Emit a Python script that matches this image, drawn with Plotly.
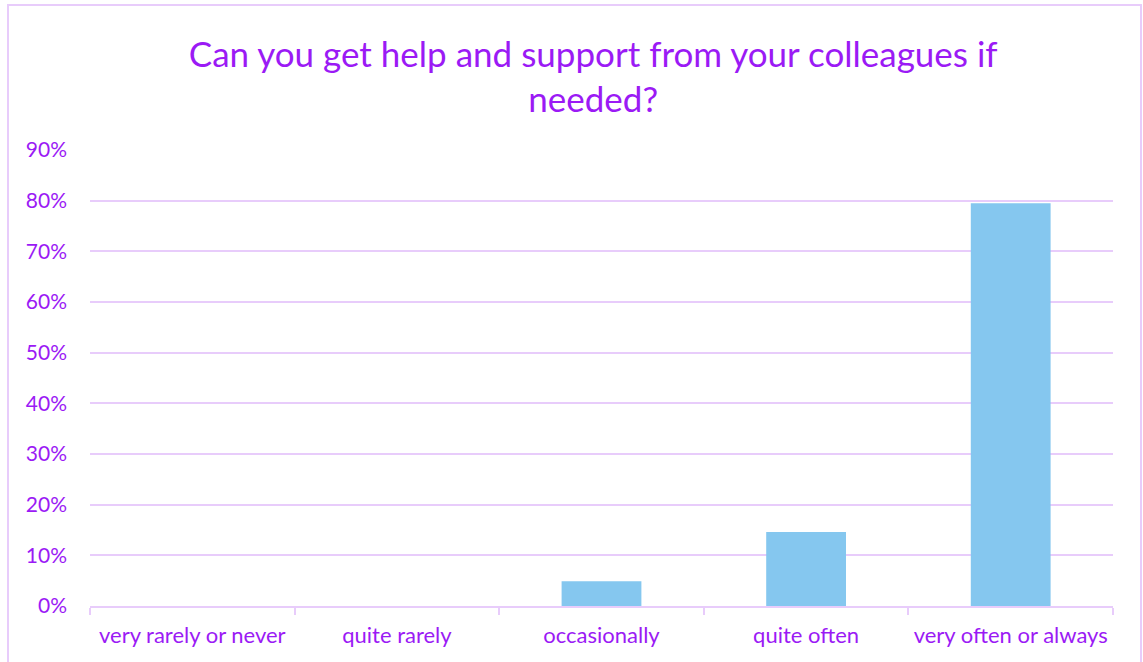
import plotly.graph_objects as go

categories = ["very rarely or never", "quite rarely", "occasionally", "quite often", "very often or always"]
shares = [0.0, 0.0, 0.049, 0.146, 0.795]
y_ticks = [0, 0.1, 0.2, 0.3, 0.4, 0.5, 0.6, 0.7, 0.8, 0.9]
y_tick_labels = ["0%", "10%", "20%", "30%", "40%", "50%", "60%", "70%", "80%", "90%"]

purple = "#9B1AF5"
grid = "#E8CCFB"
bar_color = "#85C7EF"
font_family = "Lato, 'Open Sans', sans-serif"

fig = go.Figure()
fig.add_trace(go.Bar(
    x=categories,
    y=shares,
    marker=dict(color=bar_color, line=dict(width=0)),
))

fig.update_layout(
    width=1143,
    height=662,
    margin=dict(l=90, r=30, t=150, b=56),
    paper_bgcolor="white",
    plot_bgcolor="white",
    showlegend=False,
    bargap=0.61,
    font=dict(family=font_family, color=purple),
    title=dict(
        text="Can you get help and support from your colleagues if<br>needed?",
        x=0.519,
        xanchor="center",
        y=0.899,
        yanchor="middle",
        font=dict(size=35, color=purple, family=font_family),
    ),
    shapes=[dict(
        type="rect", xref="paper", yref="paper",
        x0=-82 / 1023, x1=1 + 28 / 1023, y0=-60 / 456, y1=1 + 145 / 456,
        line=dict(color=grid, width=2), layer="below",
    )],
)

fig.update_yaxes(
    range=[0, 0.9],
    tickvals=y_ticks,
    ticktext=y_tick_labels,
    showgrid=True,
    gridcolor=grid,
    gridwidth=2,
    zeroline=False,
    showline=False,
    tickfont=dict(size=21, color=purple),
    ticklabelstandoff=22,
)

fig.update_xaxes(
    showline=True,
    linecolor=grid,
    linewidth=2,
    showgrid=False,
    ticks="outside",
    tickson="boundaries",
    ticklen=7,
    tickwidth=2,
    tickcolor=grid,
    tickfont=dict(size=22, color=purple),
    ticklabelstandoff=9,
)

fig.write_html("out.html")
